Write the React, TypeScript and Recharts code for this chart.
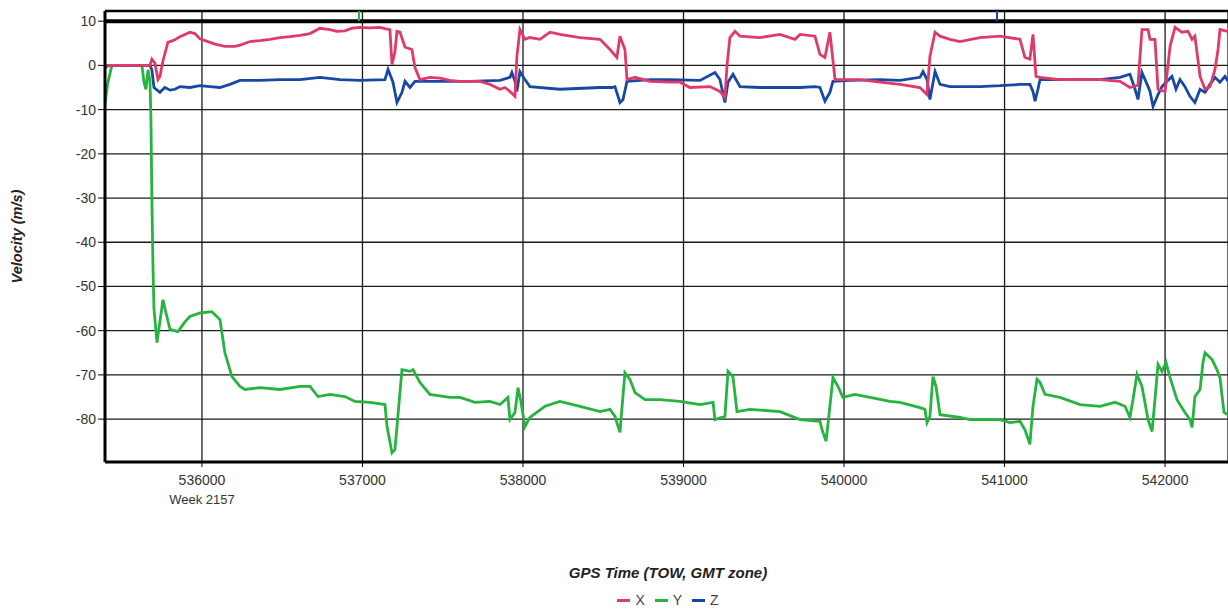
import {
  LineChart,
  Line,
  XAxis,
  YAxis,
  CartesianGrid,
  ReferenceLine,
  Legend,
} from "recharts";

// GPS time of week (s) and velocity (m/s)
const xTimes = [
  535396, 535676, 535688, 535707, 535726, 535738, 535757, 535788, 535832, 535863,
  535894, 535925, 535956, 535988, 536050, 536081, 536143, 536206, 536237, 536299,
  536361, 536424, 536486, 536548, 536611, 536673, 536735, 536797, 536841, 536891,
  536935, 536984, 537047, 537109, 537140, 537171, 537184, 537202, 537215, 537234,
  537265, 537308, 537327, 537358, 537420, 537483, 537545, 537607, 537732, 537794,
  537857, 537888, 537919, 537950, 537962, 537981, 538012, 538043, 538106, 538168,
  538230, 538355, 538480, 538542, 538585, 538604, 538635, 538648, 538698, 538791,
  538916, 538978, 539040, 539165, 539227, 539258, 539271, 539289, 539321, 539352,
  539476, 539601, 539694, 539726, 539819, 539850, 539881, 539912, 539944, 539993,
  540099, 540224, 540349, 540473, 540517, 540535, 540567, 540598, 540660, 540722,
  540847, 540972, 541096, 541127, 541158, 541177, 541196, 541221, 541345, 541470,
  541595, 541719, 541781, 541831, 541856, 541894, 541906, 541937, 541956, 542000,
  542031, 542062, 542105, 542143, 542168, 542186, 542218, 542249, 542280, 542311,
  542330, 542342, 542392,
];
const xValues = [
  0, 0, 1.4, 0.5, -3.2, -2.5, 1, 5.2, 5.8, 6.5,
  7, 7.5, 7.2, 6, 5.2, 4.8, 4.3, 4.3, 4.6, 5.4,
  5.6, 5.9, 6.3, 6.5, 6.8, 7.2, 8.4, 8.1, 7.7, 7.8,
  8.4, 8.6, 8.5, 8.6, 8.3, 8.1, 0.2, 3, 7.7, 7.5,
  4.1, 3.6, -0.5, -3.2, -2.7, -2.9, -3.4, -3.6, -3.6, -4.3,
  -5.4, -5, -5.9, -7, 2, 8.1, 5.9, 6.3, 5.9, 7.5,
  7, 6.3, 5.9, 3.6, 1.8, 6.6, 3.6, -3.2, -2.7, -3.6,
  -3.8, -3.8, -5, -4.8, -5.9, -7.2, 0, 6.3, 7.7, 6.6,
  6.3, 7, 5.9, 7, 6.6, 2.5, 1.8, 7.5, -3.2, -3.2,
  -3.2, -3.8, -4.3, -5, -6.6, 2, 7.5, 6.6, 5.9, 5.4,
  6.3, 6.6, 5.9, 1.8, 1.4, 7, -2.5, -2.7, -3.2, -3.2,
  -3.2, -3.6, -5, -4.5, 8.1, 8.1, 5.9, 5.9, -5.4, -5.9,
  4.3, 8.6, 7.5, 7.7, 5.9, 6.6, -2.5, -5.4, -4.8, -0.9,
  3.6, 8.1, 7.7,
];

const yTimes = [
  535396, 535414, 535439, 535626, 535639, 535651, 535664, 535676, 535682, 535688,
  535695, 535701, 535720, 535738, 535757, 535776, 535801, 535850, 535894, 535925,
  535988, 536062, 536112, 536143, 536187, 536237, 536268, 536361, 536486, 536611,
  536673, 536723, 536797, 536891, 536953, 537047, 537140, 537153, 537184, 537202,
  537215, 537246, 537296, 537315, 537358, 537420, 537545, 537607, 537701, 537794,
  537857, 537906, 537919, 537950, 537969, 537987, 538012, 538043, 538137, 538230,
  538355, 538480, 538542, 538573, 538604, 538635, 538666, 538698, 538760, 538853,
  538978, 539103, 539184, 539196, 539258, 539277, 539308, 539333, 539414, 539601,
  539726, 539850, 539863, 539888, 539912, 539931, 539962, 539993, 540068, 540162,
  540286, 540349, 540473, 540504, 540517, 540535, 540554, 540573, 540598, 540722,
  540785, 540972, 541034, 541096, 541127, 541158, 541177, 541202, 541221, 541252,
  541345, 541470, 541595, 541688, 541750, 541781, 541800, 541825, 541856, 541894,
  541919, 541937, 541956, 541981, 542006, 542031, 542074, 542124, 542155, 542168,
  542186, 542218, 542236, 542249, 542292, 542323, 542342, 542367, 542392,
];
const yValues = [
  -8.5, -3.8, 0, 0, -3.8, -5.4, -1, -3.6, -11.5, -30.3,
  -45.5, -55, -62.7, -58, -53, -56, -59.7, -60.2, -58, -56.8,
  -56, -55.7, -57.5, -65, -70.4, -72.6, -73.3, -72.9, -73.3, -72.6,
  -72.6, -74.9, -74.4, -74.9, -76, -76.2, -76.7, -81.7, -87.6, -86.9,
  -81.7, -68.8, -69.2, -68.8, -71.7, -74.4, -75.1, -75.1, -76.2, -76,
  -76.7, -75.1, -80.1, -78.5, -72.9, -76, -81.7, -79.6, -77.1, -76,
  -77.1, -78.3, -77.8, -79.4, -83, -69.5, -71, -74, -75.6, -75.6,
  -76, -76.7, -76.2, -80.1, -79.4, -69.2, -70.4, -78.3, -77.8, -78.3,
  -80.1, -80.5, -82.4, -85, -77.1, -70.6, -72.6, -75.1, -74.4, -75.1,
  -76, -76.2, -77.4, -77.8, -80.8, -79.4, -70.4, -72.6, -79, -79.6,
  -80.1, -80.1, -80.8, -80.5, -82.4, -85.7, -77.1, -71, -71.7, -74.4,
  -75.1, -76.7, -77.1, -76.2, -77.1, -79.6, -75.6, -69.9, -72.6, -80.1,
  -82.8, -75.6, -67.6, -69.2, -67.2, -70.6, -75.6, -78.5, -80.1, -81.9,
  -74.9, -73.3, -67.2, -65, -66.5, -68.8, -70.6, -78.5, -79,
];

const zTimes = [
  535396, 535420, 535676, 535688, 535701, 535738, 535769, 535801, 535832, 535863,
  535925, 535988, 536050, 536112, 536174, 536237, 536361, 536486, 536611, 536735,
  536860, 536984, 537140, 537159, 537190, 537215, 537246, 537265, 537296, 537327,
  537483, 537670, 537857, 537919, 537931, 537950, 537962, 537981, 538012, 538043,
  538230, 538480, 538554, 538573, 538604, 538623, 538648, 538791, 538916, 539103,
  539196, 539227, 539258, 539277, 539308, 539352, 539476, 539726, 539819, 539850,
  539881, 539912, 539931, 540037, 540224, 540349, 540473, 540492, 540517, 540535,
  540567, 540598, 540660, 540847, 540972, 541096, 541158, 541177, 541190, 541208,
  541221, 541345, 541595, 541719, 541781, 541813, 541831, 541856, 541894, 541906,
  541925, 541956, 541981, 542012, 542043, 542068, 542093, 542124, 542155, 542186,
  542218, 542249, 542280, 542311, 542342, 542373, 542392,
];
const zValues = [
  -0.5, 0, 0, -1, -5, -6.1, -5, -5.6, -5.4, -4.8,
  -5, -4.6, -4.8, -5, -4.3, -3.4, -3.4, -3.2, -3.2, -2.7,
  -3.2, -3.4, -3.2, -0.9, -3.8, -8.4, -6.1, -3.6, -5, -3.6,
  -3.6, -3.6, -3.4, -2.7, -1.6, -3.6, -5.9, -1.4, -3.2, -4.8,
  -5.4, -5, -5, -4.8, -8.4, -7.7, -3.6, -3.2, -3.2, -3.4,
  -1.6, -3.2, -8.4, -3.8, -2, -4.8, -5, -5, -4.8, -5,
  -8.1, -6.1, -3.6, -3.4, -3.2, -3.4, -2.7, -1.4, -3.2, -7.7,
  -1.4, -4.3, -4.8, -4.8, -4.6, -4.3, -4.3, -5.9, -8.1, -5.4,
  -3.2, -3.2, -3.2, -2.7, -2, -5.4, -7.7, -1.6, -4.8, -5.9,
  -9.3, -6.6, -4.8, -3.6, -2.5, -5.4, -3.2, -4.8, -7, -8.4,
  -5.4, -6.1, -4.3, -2.7, -3.8, -2.5, -3.6,
];

const timeTicks = [536000, 537000, 538000, 539000, 540000, 541000, 542000];
const velocityTicks = [-80, -70, -60, -50, -40, -30, -20, -10, 0, 10];
const weekLabel = "Week 2157";
// small event marks above the 10 m/s line
const markerTimes = [536978, 540953];
const markerColors = ["#26b33f", "#1748a6"];

const series = [
  { name: "X", color: "#e03a6a", data: xTimes.map((t, i) => ({ t, v: xValues[i] })) },
  { name: "Y", color: "#26b33f", data: yTimes.map((t, i) => ({ t, v: yValues[i] })) },
  { name: "Z", color: "#1748a6", data: zTimes.map((t, i) => ({ t, v: zValues[i] })) },
];
// draw order: green, blue, then red on top
const drawOrder = ["Y", "Z", "X"];

const TIME_MIN = 535396;
const TIME_MAX = 542392;
const VEL_MIN = -89.7;
const VEL_MAX = 12.3;

const TimeTick = ({ x, y, payload }: any) => (
  <g>
    <text x={x} y={y + 16} textAnchor="middle" fontSize={14} fill="#333">
      {payload.value}
    </text>
    {payload.value === timeTicks[0] && (
      <text x={x} y={y + 35} textAnchor="middle" fontSize={13} fill="#333">
        {weekLabel}
      </text>
    )}
  </g>
);

const LegendRow = () => (
  <div
    style={{
      display: "flex",
      justifyContent: "center",
      gap: 10,
      fontSize: 14,
      color: "#444",
      lineHeight: "16px",
    }}
  >
    {series.map((s) => (
      <span key={s.name} style={{ display: "flex", alignItems: "center" }}>
        <span
          style={{
            display: "inline-block",
            width: 13,
            height: 3,
            background: s.color,
            marginRight: 5,
          }}
        />
        {s.name}
      </span>
    ))}
  </div>
);

export default function App() {
  return (
    <div
      style={{
        position: "absolute",
        left: 0,
        top: 0,
        width: 1228,
        height: 612,
        overflow: "hidden",
        background: "#fff",
      }}
    >
      <LineChart
        width={1228}
        height={612}
        margin={{ top: 11, right: 0, bottom: 0, left: 0 }}
        style={{ fontFamily: "'Liberation Sans', Arial, sans-serif" }}
      >
        <CartesianGrid stroke="#1a1a1a" strokeWidth={1.3} />
        <XAxis
          type="number"
          dataKey="t"
          domain={[TIME_MIN, TIME_MAX]}
          allowDataOverflow
          ticks={timeTicks}
          height={150}
          tick={<TimeTick />}
          tickSize={5}
          tickMargin={2}
          axisLine={{ stroke: "#000", strokeWidth: 3 }}
          tickLine={{ stroke: "#000" }}
          label={{
            content: (props: any) => {
              const vb = props.viewBox || { x: 105, width: 1123 };
              return (
                <text
                  x={vb.x + 563}
                  y={578}
                  textAnchor="middle"
                  fontSize={15}
                  fontWeight="bold"
                  fontStyle="italic"
                  fill="#222"
                >
                  GPS Time (TOW, GMT zone)
                </text>
              );
            },
          }}
        />
        <YAxis
          type="number"
          dataKey="v"
          domain={[VEL_MIN, VEL_MAX]}
          allowDataOverflow
          ticks={velocityTicks}
          width={105}
          tickSize={7}
          tickMargin={2}
          tick={{ fontSize: 14, fill: "#333" }}
          axisLine={{ stroke: "#000", strokeWidth: 3 }}
          tickLine={{ stroke: "#000" }}
          label={{
            content: (props: any) => {
              const vb = props.viewBox || { y: 11, height: 451 };
              const cy = vb.y + vb.height / 2;
              return (
                <text
                  transform={`translate(22, ${cy}) rotate(-90)`}
                  textAnchor="middle"
                  fontSize={14.5}
                  fontWeight="bold"
                  fontStyle="italic"
                  fill="#222"
                >
                  Velocity (m/s)
                </text>
              );
            },
          }}
        />
        <ReferenceLine y={10} stroke="#000" strokeWidth={4} />
        <ReferenceLine y={VEL_MAX} stroke="#000" strokeWidth={2.5} />
        {markerTimes.map((t, i) => (
          <ReferenceLine
            key={t}
            segment={[
              { x: t, y: 10 },
              { x: t, y: VEL_MAX },
            ]}
            stroke={markerColors[i]}
            strokeWidth={2}
          />
        ))}
        {drawOrder.map((n) => {
          const s = series.find((it) => it.name === n)!;
          return (
            <Line
              key={s.name}
              data={s.data}
              dataKey="v"
              name={s.name}
              type="linear"
              stroke={s.color}
              strokeWidth={2.8}
              dot={false}
              activeDot={false}
              isAnimationActive={false}
            />
          );
        })}
        <Legend
          layout="vertical"
          align="center"
          verticalAlign="middle"
          wrapperStyle={{ top: 592, left: 105, width: 1126 }}
          content={<LegendRow />}
        />
      </LineChart>
    </div>
  );
}
